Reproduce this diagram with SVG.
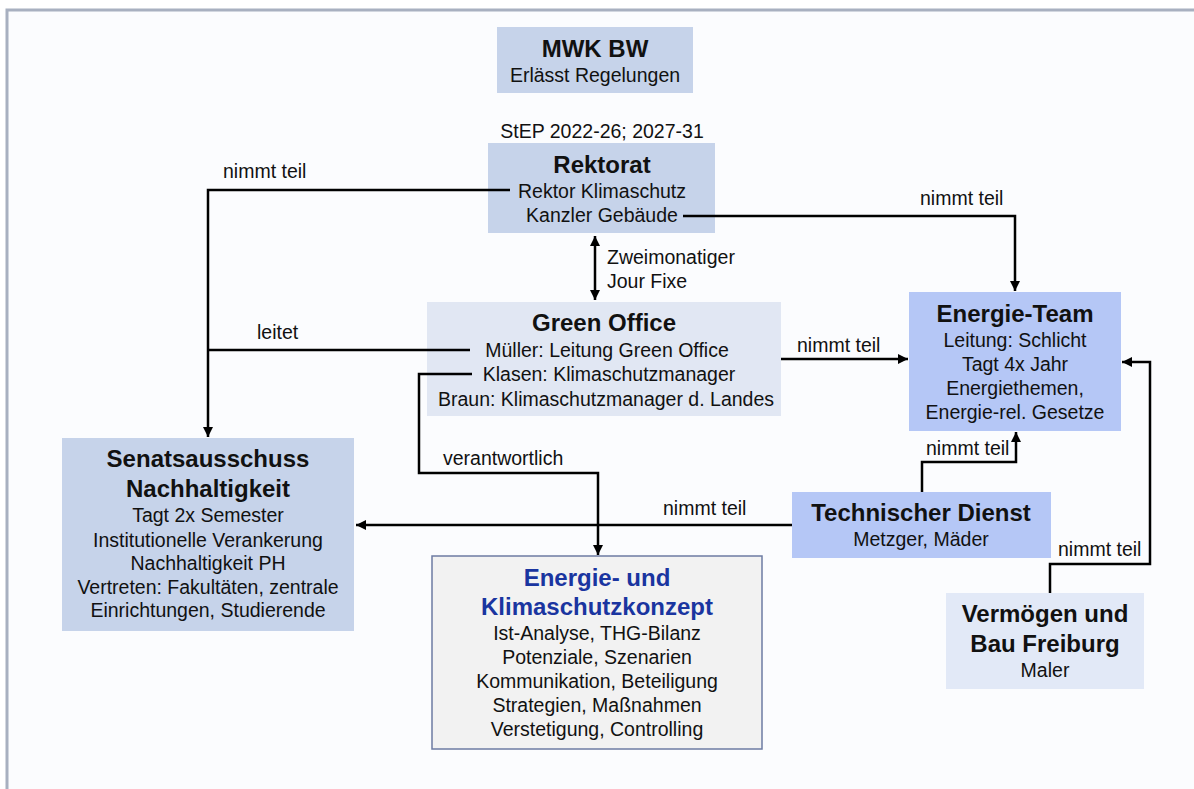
<svg xmlns="http://www.w3.org/2000/svg" width="1194" height="789" viewBox="0 0 1194 789">
<defs>
<marker id="ah" viewBox="0 0 10 10" refX="10" refY="5" markerWidth="10" markerHeight="10" markerUnits="userSpaceOnUse" orient="auto-start-reverse">
<path d="M0,0 L10,5 L0,10 z" fill="#000"/>
</marker>
<style>
text{font-family:"Liberation Sans",Arial,sans-serif;fill:#111;text-anchor:middle}
.t{font-size:24px;font-weight:bold}
.n{font-size:19.5px}
.l{font-size:19.5px;text-anchor:start}
.c{fill:none;stroke:#000;stroke-width:2.5}
.a{marker-end:url(#ah)}
</style>
</defs>
<rect x="0" y="0" width="1194" height="789" fill="#ffffff"/>
<rect x="7" y="10" width="1200" height="800" fill="#fbfcfe" stroke="#a8b0c0" stroke-width="3"/>

<g id="mwk">
<rect x="497" y="27" width="196" height="66" fill="#c6d3ea"/>
<text class="t" x="595" y="57">MWK BW</text>
<text class="n" x="595" y="82">Erlässt Regelungen</text>
</g>

<g id="rektorat">
<text class="n" x="602" y="138">StEP 2022-26; 2027-31</text>
<rect x="488" y="143" width="227" height="90" fill="#c6d3ea"/>
<text class="t" x="602" y="173">Rektorat</text>
<text class="n" x="602" y="198">Rektor Klimaschutz</text>
<text class="n" x="602" y="222">Kanzler Gebäude</text>
</g>

<g id="greenoffice">
<rect x="427" y="302" width="354" height="114" fill="#e1e7f3"/>
<text class="t" x="604" y="331">Green Office</text>
<text class="n" x="607" y="357">Müller: Leitung Green Office</text>
<text class="n" x="609" y="381">Klasen: Klimaschutzmanager</text>
<text class="n" x="606" y="406">Braun: Klimaschutzmanager d. Landes</text>
</g>

<g id="energieteam">
<rect x="909" y="292" width="212" height="139" fill="#b5c7f6"/>
<text class="t" x="1015" y="322">Energie-Team</text>
<text class="n" x="1015" y="347">Leitung: Schlicht</text>
<text class="n" x="1015" y="371">Tagt 4x Jahr</text>
<text class="n" x="1015" y="395">Energiethemen,</text>
<text class="n" x="1015" y="419">Energie-rel. Gesetze</text>
</g>

<g id="senat">
<rect x="62" y="438" width="292" height="193" fill="#c6d3ea"/>
<text class="t" x="208" y="467">Senatsausschuss</text>
<text class="t" x="208" y="497">Nachhaltigkeit</text>
<text class="n" x="208" y="522">Tagt 2x Semester</text>
<text class="n" x="208" y="547">Institutionelle Verankerung</text>
<text class="n" x="208" y="570">Nachhaltigkeit PH</text>
<text class="n" x="208" y="594">Vertreten: Fakultäten, zentrale</text>
<text class="n" x="208" y="617">Einrichtungen, Studierende</text>
</g>

<g id="techdienst">
<rect x="792" y="492" width="259" height="66" fill="#b5c7f6"/>
<text class="t" x="921" y="521">Technischer Dienst</text>
<text class="n" x="921" y="546">Metzger, Mäder</text>
</g>

<g id="konzept">
<rect x="432" y="556" width="330" height="193" fill="#f2f2f2" stroke="#6d7ba3" stroke-width="1.5"/>
<text class="t" x="597" y="586" style="fill:#1a35a0">Energie- und</text>
<text class="t" x="597" y="615" style="fill:#1a35a0">Klimaschutzkonzept</text>
<text class="n" x="597" y="640">Ist-Analyse, THG-Bilanz</text>
<text class="n" x="597" y="664">Potenziale, Szenarien</text>
<text class="n" x="597" y="688">Kommunikation, Beteiligung</text>
<text class="n" x="597" y="712">Strategien, Maßnahmen</text>
<text class="n" x="597" y="736">Verstetigung, Controlling</text>
</g>

<g id="vermoegen">
<rect x="946" y="593" width="198" height="96" fill="#e2e9f7"/>
<text class="t" x="1045" y="622">Vermögen und</text>
<text class="t" x="1045" y="652">Bau Freiburg</text>
<text class="n" x="1045" y="677">Maler</text>
</g>

<g id="connectors">
<path class="c a" d="M510,190 H208 V437"/>
<path class="c" d="M470,350 H208"/>
<path class="c a" d="M683,216 H1015 V291"/>
<path class="c" d="M595,236 V300" marker-start="url(#ah)" marker-end="url(#ah)"/>
<path class="c a" d="M781,359 H908"/>
<path class="c a" d="M472,374 H419 V473 H598 V555"/>
<path class="c a" d="M792,525 H356"/>
<path class="c a" d="M922,492 V462 H1016 V432"/>
<path class="c a" d="M1050,593 V564 H1150 V362 H1122"/>
<text class="l" x="223" y="178">nimmt teil</text>
<text class="l" x="257" y="339">leitet</text>
<text class="l" x="920" y="205">nimmt teil</text>
<text class="l" x="607" y="264">Zweimonatiger</text>
<text class="l" x="607" y="288">Jour Fixe</text>
<text class="l" x="797" y="352">nimmt teil</text>
<text class="l" x="443" y="465">verantwortlich</text>
<text class="l" x="663" y="515">nimmt teil</text>
<text class="l" x="926" y="455">nimmt teil</text>
<text class="l" x="1058" y="556">nimmt teil</text>
</g>
</svg>
